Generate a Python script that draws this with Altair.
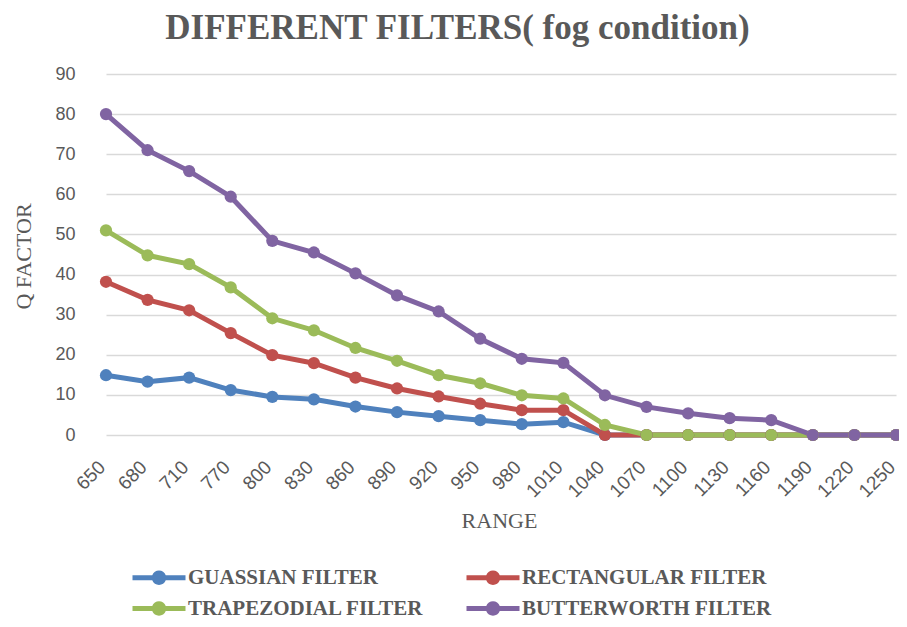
import altair as alt
import pandas as pd

ranges = ["650", "680", "710", "770", "800", "830", "860", "890", "920", "950",
          "980", "1010", "1040", "1070", "1100", "1130", "1160", "1190", "1220", "1250"]
series_names = ["GUASSIAN FILTER", "RECTANGULAR FILTER", "TRAPEZODIAL FILTER", "BUTTERWORTH FILTER"]
guassian = [14.9, 13.3, 14.3, 11.2, 9.5, 8.9, 7.1, 5.7, 4.7, 3.7, 2.7, 3.2, 0, 0, 0, 0, 0, 0, 0, 0]
rectangular = [38.2, 33.7, 31.1, 25.4, 19.9, 17.9, 14.3, 11.6, 9.6, 7.8, 6.2, 6.2, 0, 0, 0, 0, 0, 0, 0, 0]
trapezodial = [51.0, 44.8, 42.6, 36.8, 29.1, 26.1, 21.7, 18.5, 14.9, 12.9, 9.9, 9.1, 2.5, 0, 0, 0, 0, 0, 0, 0]
butterworth = [80.0, 71.0, 65.8, 59.4, 48.4, 45.5, 40.3, 34.8, 30.8, 24.0, 19.0, 18.0, 9.9, 7.0, 5.4, 4.2, 3.7, 0, 0, 0]
colors = ["#4f81bd", "#c0504d", "#9bbb59", "#8064a2"]

rows = []
for name, vals in zip(series_names, [guassian, rectangular, trapezodial, butterworth]):
    for i, (r, v) in enumerate(zip(ranges, vals)):
        rows.append({"range": r, "q": v, "series": name, "order": i})
df = pd.DataFrame(rows)

GREY = "#595959"
SYM = ("M-2.65,-0.25L-0.675,-0.25A0.72,0.72,0,0,1,0.675,-0.25L2.65,-0.25L2.65,0.25"
       "L0.675,0.25A0.72,0.72,0,0,1,-0.675,0.25L-2.65,0.25Z")

legend = alt.Legend(
    title=None, orient="none", legendX=64.5, legendY=493, direction="horizontal",
    columns=2, columnPadding=42, rowPadding=9,
    symbolType=SYM, symbolSize=400, symbolStrokeWidth=0,
    symbolOpacity=1,
    labelFont="Liberation Serif", labelFontSize=21,
    labelFontWeight="bold", labelColor=GREY, labelOffset=18.5,
    labelLimit=400)

x_enc = alt.X("range:N", sort=ranges,
              scale=alt.Scale(type="point", range=[22, 812], padding=0),
              axis=alt.Axis(title="RANGE", labelAngle=-45, labelAlign="right",
                            labelBaseline="alphabetic", labelFont="Liberation Sans",
                            labelFontSize=19, labelColor=GREY, labelPadding=33,
                            ticks=False, domain=False, grid=False,
                            titleFont="Liberation Serif", titleFontSize=22,
                            titleFontWeight="normal", titleColor=GREY,
                            titleX=415, titleY=85, titleBaseline="middle"))
y_enc = alt.Y("q:Q", scale=alt.Scale(domain=[0, 90], nice=False),
              axis=alt.Axis(title="Q FACTOR", values=list(range(0, 91, 10)),
                            labelFont="Liberation Sans", labelFontSize=18,
                            labelColor=GREY, labelPadding=9, ticks=False, domain=False,
                            gridColor="#d9d9d9", gridWidth=1.5,
                            titleFont="Liberation Serif", titleFontSize=22,
                            titleFontWeight="normal", titleColor=GREY,
                            titleX=-61, titleY=182, titleAngle=-90,
                            titleAlign="center", titleBaseline="middle"))
color_enc = alt.Color("series:N", sort=series_names,
                      scale=alt.Scale(domain=series_names, range=colors),
                      legend=legend)

lines = alt.Chart(df).mark_line(strokeWidth=5).encode(
    x=x_enc, y=y_enc, color=color_enc, order="order:Q",
)
points = alt.Chart(df).mark_circle(size=150, opacity=1).encode(
    x=x_enc, y=y_enc, color=color_enc,
)

chart = alt.layer(lines, points).properties(
    width=815, height=361,
    title=alt.TitleParams("DIFFERENT FILTERS( fog condition)", font="Liberation Serif",
                          fontSize=35, fontWeight="bold", color=GREY,
                          anchor="middle", dx=-34, offset=19),
    autosize=alt.AutoSizeParams(type="none"),
    padding={"left": 76, "top": 66, "right": 0, "bottom": 184},
).configure_view(stroke=None)

chart.save("out.html", embed_options={"renderer": "svg", "actions": False})
